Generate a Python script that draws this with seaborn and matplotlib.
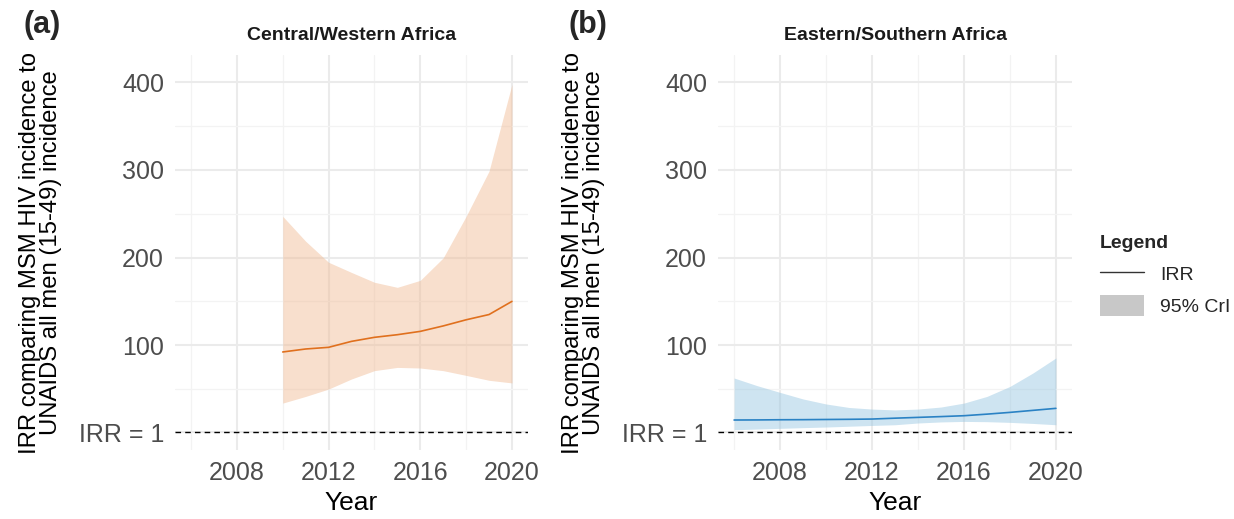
import numpy as np
import pandas as pd
import matplotlib
matplotlib.use("Agg")
import matplotlib.pyplot as plt
import seaborn as sns
from matplotlib.lines import Line2D
from matplotlib.patches import Patch

# panel (a) Central/Western Africa
years_cw = [2010, 2011, 2012, 2013, 2014, 2015, 2016, 2017, 2018, 2019, 2020]
irr_cw = [92.3, 95.7, 97.6, 104.4, 109, 112, 115.8, 122, 129, 135, 150]
upper_cw = [247, 218.6, 194.6, 183, 171.8, 166, 174, 199.6, 247, 298.5, 397.5]
lower_cw = [34, 41.6, 50, 61.5, 71, 74.7, 74, 71, 65.6, 60, 57]

# panel (b) Eastern/Southern Africa
years_es = list(range(2006, 2021))
irr_es = [14.7, 14.8, 15, 15.1, 15.3, 15.5, 15.8, 16.8, 17.7, 18.6, 19.6, 21.4, 23.4, 25.7, 28]
upper_es = [62.6, 53.9, 46.2, 38.7, 33, 29, 27.2, 26.2, 27.2, 29.5, 34, 41.6, 53, 68.3, 85.5]
lower_es = [3.6, 4.4, 5.2, 6, 6.7, 7.6, 8.5, 9.3, 11.3, 12.5, 13.1, 12.8, 12, 10.8, 9.3]

titles = ["Central/Western Africa", "Eastern/Southern Africa"]
panel_tags = ["(a)", "(b)"]
y_breaks = [1, 100, 200, 300, 400]
y_labels = ["IRR = 1", "100", "200", "300", "400"]
x_breaks = [2008, 2012, 2016, 2020]
ylab = "IRR comparing MSM HIV incidence to\nUNAIDS all men (15-49) incidence"

sns.set_theme(style="white")
plt.rcParams['font.family'] = ['Liberation Sans', 'DejaVu Sans']

fig = plt.figure(figsize=(12.34, 5.19), dpi=100)
ax_a = fig.add_axes([175/1234, 1-450/519, 353/1234, 395/519])
ax_b = fig.add_axes([718/1234, 1-450/519, 354/1234, 395/519])

panels = [
    (ax_a, years_cw, irr_cw, lower_cw, upper_cw, "#E0701E", "#F0B890"),
    (ax_b, years_es, irr_es, lower_es, upper_es, "#2A82C4", "#93C4E0"),
]

for i, (ax, yrs, irr, lo, hi, lc, fc) in enumerate(panels):
    df = pd.DataFrame({"Year": yrs, "IRR": irr, "lo": lo, "hi": hi})
    ax.fill_between(df["Year"], df["lo"], df["hi"], color=fc, alpha=0.45, lw=0, zorder=2)
    sns.lineplot(data=df, x="Year", y="IRR", ax=ax, color=lc, lw=1.2, zorder=3)
    ax.axhline(1, color="black", lw=1.0, ls=(0, (4, 3)), zorder=4)

    ax.set_xlim(2005.3, 2020.7)
    ax.set_ylim(-19.5, 431)
    ax.set_xticks(x_breaks)
    ax.set_xticks([2006, 2010, 2014, 2018], minor=True)
    ax.set_yticks(y_breaks)
    ax.set_yticklabels(y_labels)
    ax.set_yticks([50, 150, 250, 350], minor=True)
    ax.grid(which="major", color="#EBEBEB", lw=1.5, zorder=0)
    ax.grid(which="minor", color="#F3F3F3", lw=0.9, zorder=0)
    ax.set_axisbelow(True)
    for s in ax.spines.values():
        s.set_visible(False)
    ax.tick_params(which="both", length=0, labelsize=18, labelcolor="#4D4D4D", pad=8)
    ax.set_xlabel("Year", fontsize=19, color="black", labelpad=4)
    ax.set_ylabel(ylab, fontsize=17.2, color="black", labelpad=12, linespacing=0.95)
    ax.set_title(titles[i], fontsize=14, fontweight="bold", color="#1A1A1A", pad=11)

fig.text(42/1234, 1-25/519, panel_tags[0], fontsize=22, fontweight="bold", ha="center", va="center")
fig.text(588/1234, 1-25/519, panel_tags[1], fontsize=22, fontweight="bold", ha="center", va="center")

handles = [Line2D([], [], color="#333333", lw=1.0),
           Patch(facecolor="#C8C8C8", edgecolor="none")]
leg = fig.legend(handles, ["IRR", "95% CrI"], title="Legend",
                 loc="upper left", bbox_to_anchor=(1082/1234, 1-218/519),
                 frameon=False, fontsize=14, title_fontsize=14,
                 handlelength=2.3, handleheight=1.3, labelspacing=0.55,
                 alignment="left")
leg.get_title().set_fontweight("bold")

fig.savefig("out.png", dpi=100)
